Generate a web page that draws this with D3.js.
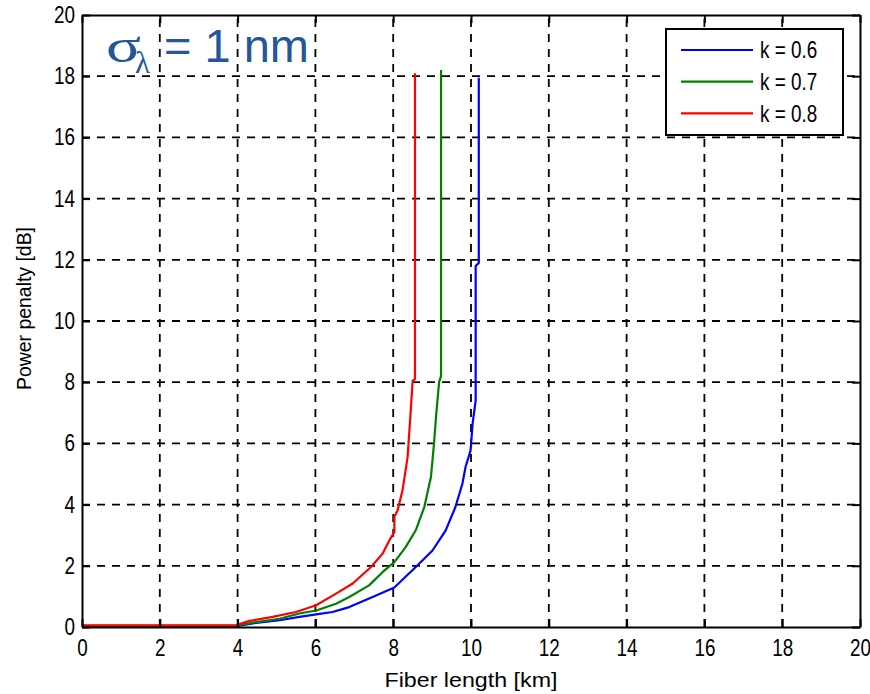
<!DOCTYPE html>
<html>
<head>
<meta charset="utf-8">
<script src="https://cdn.jsdelivr.net/npm/d3@7"></script>
<style>
  html, body { margin: 0; padding: 0; background: #fff; }
  svg { display: block; }
</style>
</head>
<body>
<svg id="chart" width="870" height="694"></svg>
<script>
// Power penalty vs fiber length for three values of k (sigma_lambda = 1 nm)
const xTicks = [0, 2, 4, 6, 8, 10, 12, 14, 16, 18, 20];
const yTicks = [0, 2, 4, 6, 8, 10, 12, 14, 16, 18, 20];
const seriesNames = ["k = 0.6", "k = 0.7", "k = 0.8"];
const seriesColors = ["#0000ff", "#008000", "#ff0000"];

// k = 0.6
const lenK06 = [0, 3.97, 4.39, 5.08, 5.59, 6.02, 6.44, 6.87, 7.47, 8.03, 8.58, 9.01, 9.35, 9.6, 9.78, 9.86, 9.99, 10.04, 10.12, 10.12, 10.2, 10.2];
const ppK06  = [0.03, 0.03, 0.12, 0.22, 0.33, 0.41, 0.49, 0.65, 0.98, 1.29, 1.96, 2.5, 3.16, 3.92, 4.69, 5.23, 5.77, 6.64, 7.4, 11.8, 11.9, 17.95];
// k = 0.7
const lenK07 = [0, 3.92, 4.48, 5.08, 5.59, 6.02, 6.53, 6.87, 7.38, 7.73, 8.03, 8.32, 8.58, 8.8, 8.97, 9.05, 9.1, 9.18, 9.23, 9.23];
const ppK07  = [0.04, 0.04, 0.16, 0.27, 0.44, 0.54, 0.76, 0.98, 1.36, 1.8, 2.12, 2.61, 3.16, 3.92, 4.9, 6.0, 6.86, 8.0, 8.2, 18.2];
// k = 0.8
const lenK08 = [0, 3.92, 4.31, 4.9, 5.5, 6.02, 6.53, 6.96, 7.43, 7.73, 7.9, 8.03, 8.03, 8.11, 8.24, 8.37, 8.44, 8.5, 8.56, 8.56];
const ppK08  = [0.05, 0.05, 0.2, 0.33, 0.49, 0.71, 1.09, 1.42, 1.96, 2.4, 2.83, 3.1, 3.6, 3.8, 4.47, 5.55, 6.86, 8.05, 8.1, 18.1];

const seriesX = [lenK06, lenK07, lenK08];
const seriesY = [ppK06, ppK07, ppK08];

const svg = d3.select("#chart");
const L = 82, R = 860, T = 15, B = 627;
const x = d3.scaleLinear().domain([0, 20]).range([L, R]);
const y = d3.scaleLinear().domain([0, 20]).range([B, T]);

const tickFont = "'Liberation Sans', Arial, sans-serif";
const labelFont = "'Liberation Sans', Arial, sans-serif";
// tick digits are drawn slightly condensed and tall
const SX = 0.9, SY = 1.12;

// dashed grid
const grid = svg.append("g").attr("stroke", "#000").attr("stroke-width", 1.8)
  .attr("stroke-dasharray", "8,7");
grid.selectAll("line.gx").data(xTicks.slice(1, -1)).join("line")
  .attr("class", "gx")
  .attr("x1", d => x(d)).attr("x2", d => x(d))
  .attr("y1", B).attr("y2", T);
grid.selectAll("line.gy").data(yTicks.slice(1, -1)).join("line")
  .attr("class", "gy")
  .attr("y1", d => y(d)).attr("y2", d => y(d))
  .attr("x1", L).attr("x2", R);

// curves
const line = d3.line().x(d => x(d[0])).y(d => y(d[1]));
seriesX.forEach((xs, i) => {
  const pts = xs.map((v, j) => [v, seriesY[i][j]]);
  svg.append("path").datum(pts)
    .attr("d", line)
    .attr("fill", "none")
    .attr("stroke", seriesColors[i])
    .attr("stroke-width", 2.2)
    .attr("stroke-linejoin", "round");
});

// axes with inward ticks
function styleAxis(g, hideText) {
  g.selectAll("path.domain").attr("stroke", "#000").attr("stroke-width", 2);
  g.selectAll(".tick line").attr("stroke", "#000").attr("stroke-width", 2);
  if (hideText) { g.selectAll(".tick text").remove(); return; }
  g.selectAll(".tick text")
    .attr("fill", "#000")
    .style("font-family", tickFont)
    .style("font-size", "21px")
    .each(function () {
      const t = d3.select(this);
      const tx = +t.attr("x") || 0, ty = +t.attr("y") || 0;
      t.attr("x", tx / SX).attr("y", ty / SY)
       .attr("transform", `scale(${SX},${SY})`);
    });
}

const xAxis = svg.append("g").attr("transform", `translate(0,${B})`)
  .call(d3.axisBottom(x).tickValues(xTicks).tickSizeInner(-8).tickSizeOuter(0).tickPadding(12));
xAxis.selectAll(".tick text").attr("dy", "0.71em").attr("y", 12);
styleAxis(xAxis, false);

const yAxis = svg.append("g").attr("transform", `translate(${L},0)`)
  .call(d3.axisLeft(y).tickValues(yTicks).tickSizeInner(-8).tickSizeOuter(0).tickPadding(7));
styleAxis(yAxis, false);

const xTop = svg.append("g").attr("transform", `translate(0,${T})`)
  .call(d3.axisTop(x).tickValues(xTicks).tickSizeInner(-8).tickSizeOuter(0));
styleAxis(xTop, true);

const yRight = svg.append("g").attr("transform", `translate(${R},0)`)
  .call(d3.axisRight(y).tickValues(yTicks).tickSizeInner(-8).tickSizeOuter(0));
styleAxis(yRight, true);

// axis titles
svg.append("text")
  .attr("x", (L + R) / 2).attr("y", 687)
  .attr("text-anchor", "middle")
  .attr("textLength", 173).attr("lengthAdjust", "spacingAndGlyphs")
  .style("font-family", labelFont).style("font-size", "21px")
  .text("Fiber length [km]");

svg.append("text")
  .attr("transform", `translate(31,${(227 + 390) / 2}) rotate(-90)`)
  .attr("text-anchor", "middle")
  .attr("textLength", 163).attr("lengthAdjust", "spacingAndGlyphs")
  .style("font-family", labelFont).style("font-size", "20px")
  .text("Power penalty [dB]");

// legend
const lg = svg.append("g");
lg.append("rect").attr("x", 666).attr("y", 29).attr("width", 177).attr("height", 106)
  .attr("fill", "#fff").attr("stroke", "#000").attr("stroke-width", 2);
seriesNames.forEach((name, i) => {
  const ly = 50 + i * 31.7;
  lg.append("line").attr("x1", 681).attr("x2", 753).attr("y1", ly).attr("y2", ly)
    .attr("stroke", seriesColors[i]).attr("stroke-width", 2.2);
  lg.append("text").attr("x", 760 / SX).attr("y", ly / SY).attr("dy", "0.36em")
    .attr("transform", `scale(${SX},${SY})`)
    .style("font-family", tickFont).style("font-size", "21px")
    .text(name);
});

// annotation: sigma_lambda = 1 nm
const ann = svg.append("g").attr("fill", "#23569a");
ann.append("text")
  .attr("transform", "translate(106,62) scale(1.35,1)")
  .style("font-family", "'Liberation Serif', serif").style("font-size", "48px")
  .text("σ");
ann.append("text")
  .attr("x", 135).attr("y", 73)
  .style("font-family", "'Liberation Serif', serif").style("font-size", "31px")
  .text("λ");
ann.append("text")
  .attr("x", 164).attr("y", 62)
  .style("font-family", labelFont).style("font-size", "47px")
  .text("= 1 nm");
</script>
</body>
</html>
